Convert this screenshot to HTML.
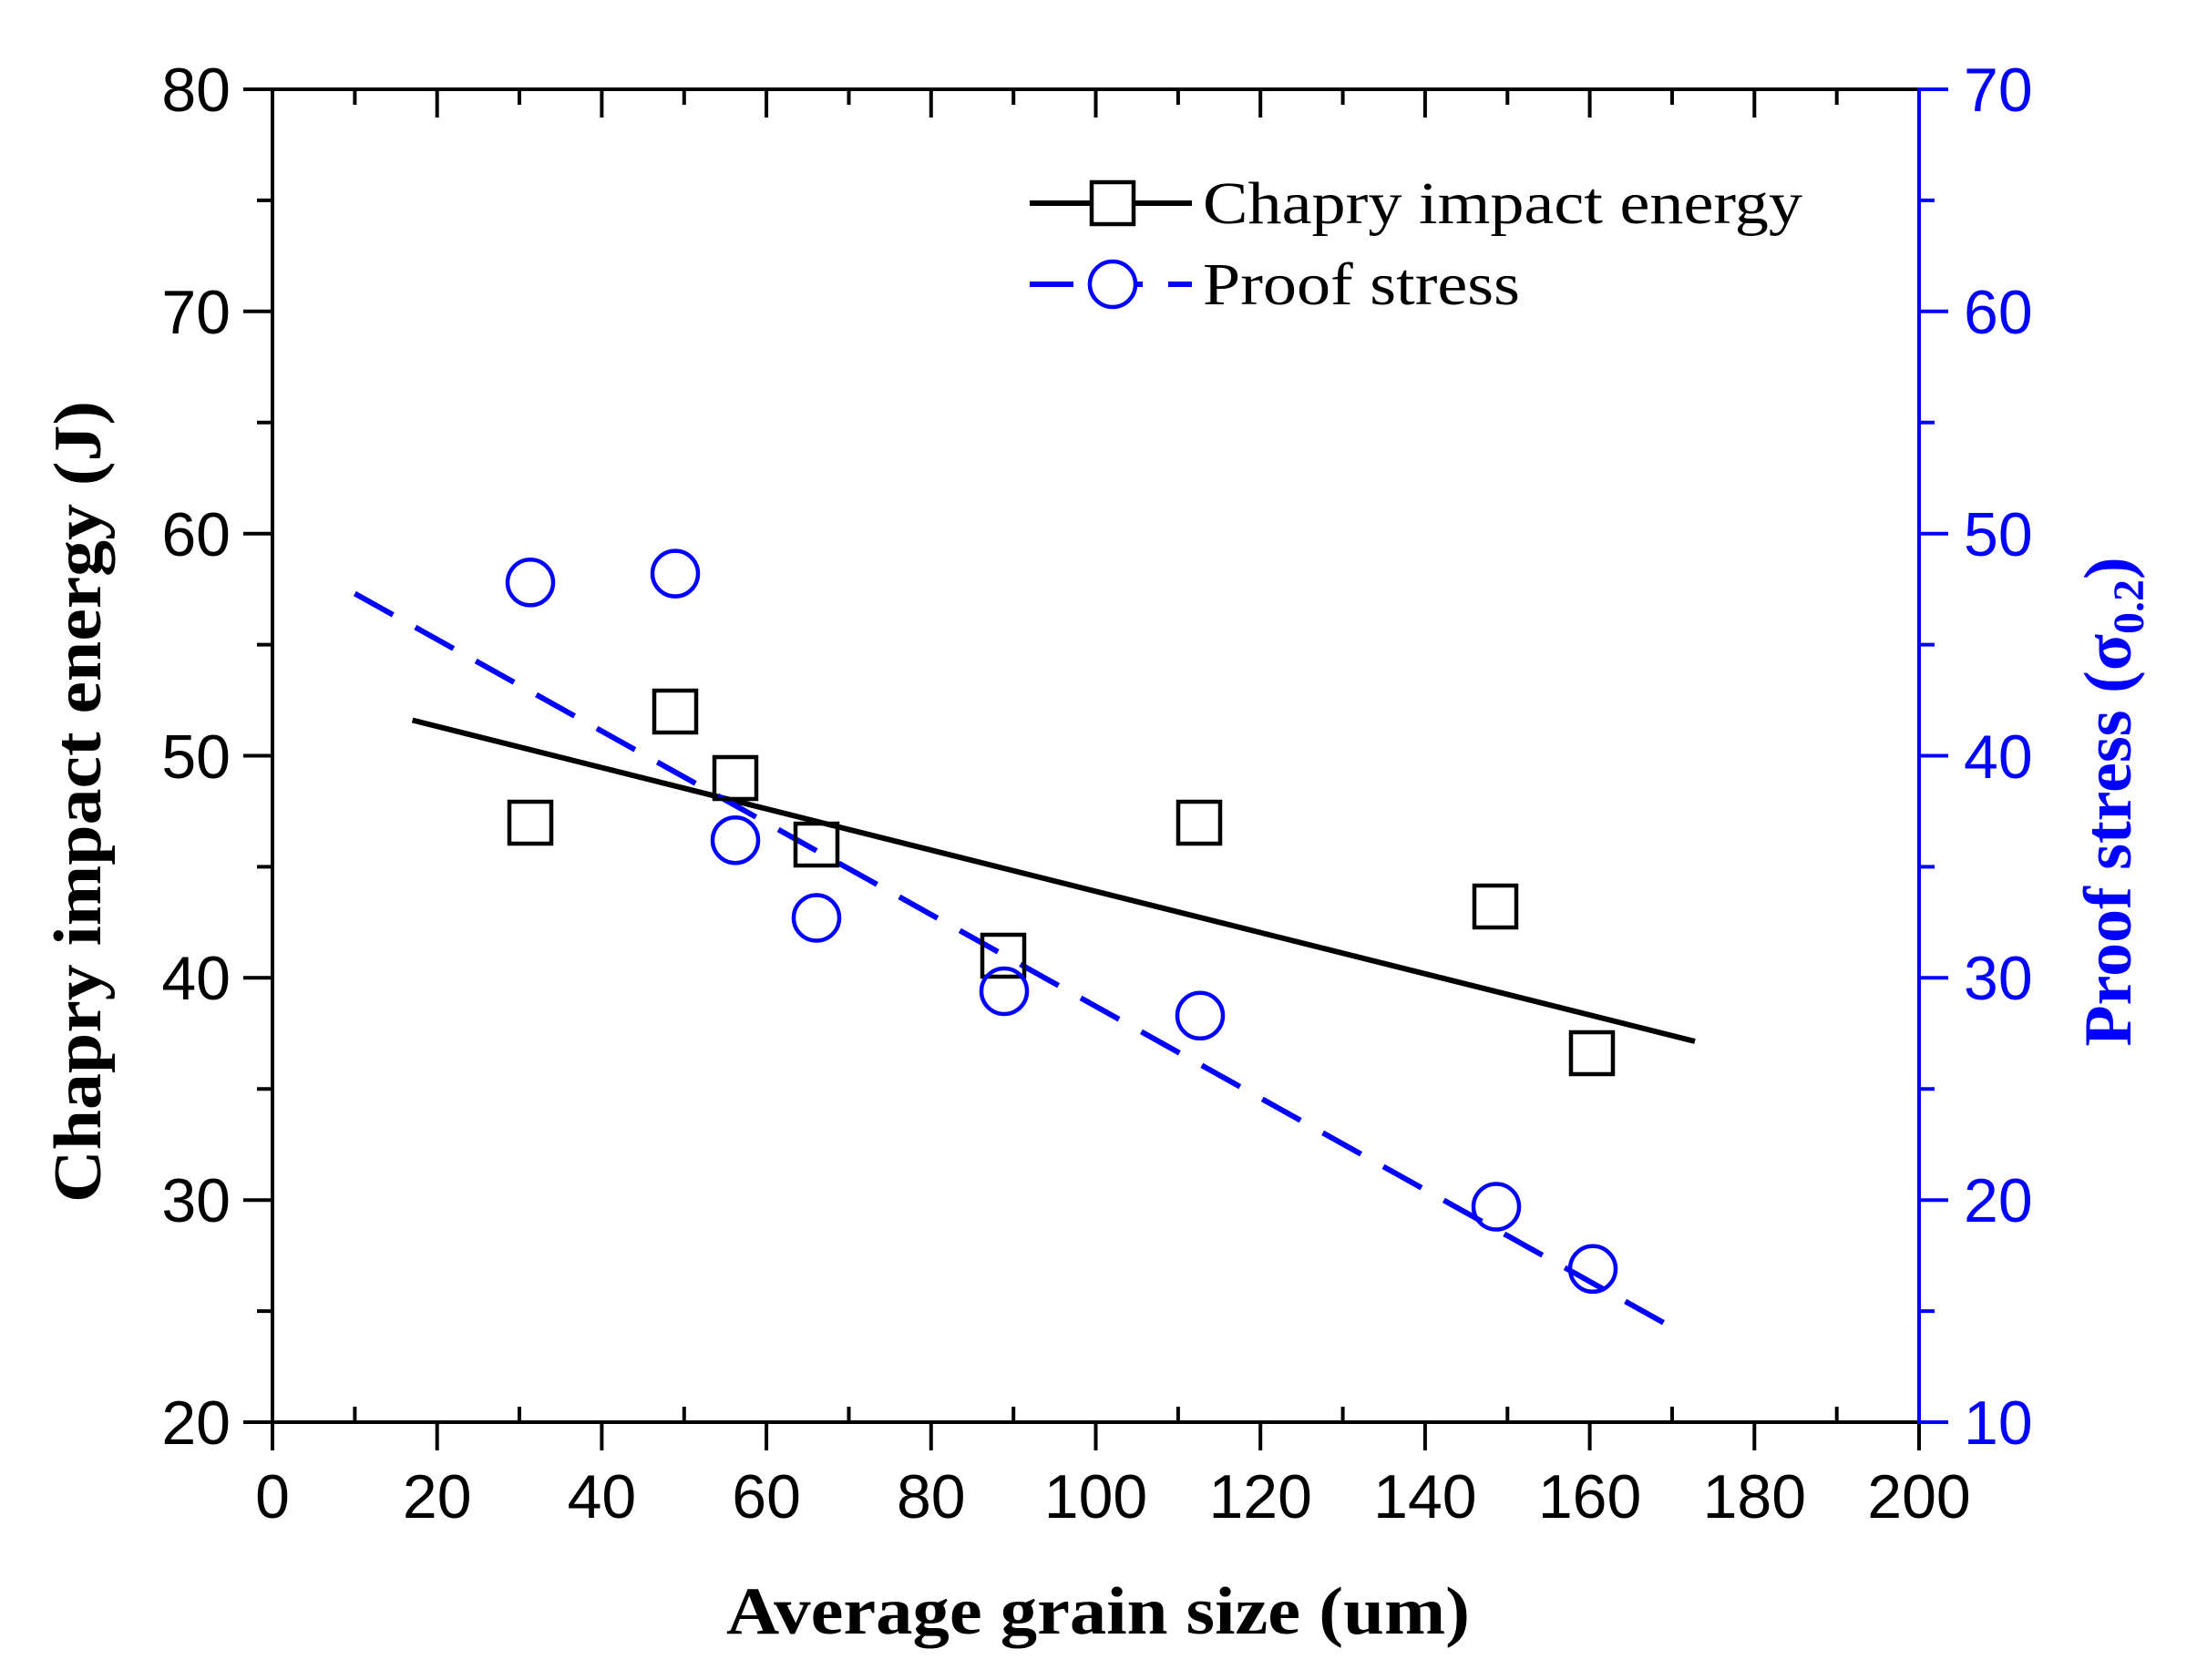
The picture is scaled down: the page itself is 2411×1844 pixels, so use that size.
<!DOCTYPE html>
<html><head><meta charset="utf-8"><style>html,body{margin:0;padding:0;background:#fff}svg{display:block}</style></head>
<body>
<svg width="2411" height="1844" viewBox="0 0 2411 1844" xmlns="http://www.w3.org/2000/svg">
<rect width="2411" height="1844" fill="#fff"/>
<g stroke="#000" stroke-width="4" fill="none" stroke-linecap="square">
<line x1="299" y1="98" x2="2106" y2="98"/>
<line x1="299" y1="98" x2="299" y2="1561"/>
<line x1="299" y1="1561" x2="2106" y2="1561"/>
<path d="M299 1561v29M479.7 1561v29M660.4 1561v29M841.1 1561v29M1021.8 1561v29M1202.5 1561v29M1383.2 1561v29M1563.9 1561v29M1744.6 1561v29M1925.3 1561v29M2106 1561v29"/>
<path d="M389.4 1561v-15M570 1561v-15M750.8 1561v-15M931.5 1561v-15M1112.2 1561v-15M1292.9 1561v-15M1473.6 1561v-15M1654.3 1561v-15M1835 1561v-15M2015.7 1561v-15"/>
<path d="M479.7 98v29M660.4 98v29M841.1 98v29M1021.8 98v29M1202.5 98v29M1383.2 98v29M1563.9 98v29M1744.6 98v29M1925.3 98v29"/>
<path d="M389.4 98v15M570 98v15M750.8 98v15M931.5 98v15M1112.2 98v15M1292.9 98v15M1473.6 98v15M1654.3 98v15M1835 98v15M2015.7 98v15"/>
<path d="M299 1561h-30M299 1317.2h-30M299 1073.3h-30M299 829.5h-30M299 585.7h-30M299 341.8h-30M299 98h-30"/>
<path d="M299 1439.1h-15M299 1195.2h-15M299 951.4h-15M299 707.6h-15M299 463.7h-15M299 219.9h-15"/>
</g>
<g stroke="#0000ff" stroke-width="4" fill="none" stroke-linecap="square">
<line x1="2106" y1="98" x2="2106" y2="1561"/>
<path d="M2106 1561h30M2106 1317.2h30M2106 1073.3h30M2106 829.5h30M2106 585.7h30M2106 341.8h30M2106 98h30"/>
<path d="M2106 1439.1h15M2106 1195.2h15M2106 951.4h15M2106 707.6h15M2106 463.7h15M2106 219.9h15"/>
</g>
<g font-family="Liberation Sans, Arial, sans-serif" font-size="68" fill="#000" text-anchor="middle">
<text x="299" y="1666">0</text><text x="479.7" y="1666">20</text><text x="660.4" y="1666">40</text><text x="841.1" y="1666">60</text><text x="1021.8" y="1666">80</text><text x="1202.5" y="1666">100</text><text x="1383.2" y="1666">120</text><text x="1563.9" y="1666">140</text><text x="1744.6" y="1666">160</text><text x="1925.3" y="1666">180</text><text x="2106" y="1666">200</text>
</g>
<g font-family="Liberation Sans, Arial, sans-serif" font-size="68" fill="#000" text-anchor="end">
<text x="253" y="1585">20</text><text x="253" y="1341">30</text><text x="253" y="1097">40</text><text x="253" y="854">50</text><text x="253" y="610">60</text><text x="253" y="366">70</text><text x="253" y="122">80</text>
</g>
<g font-family="Liberation Sans, Arial, sans-serif" font-size="68" fill="#0000ff" text-anchor="start">
<text x="2155" y="1585">10</text><text x="2155" y="1341">20</text><text x="2155" y="1097">30</text><text x="2155" y="854">40</text><text x="2155" y="610">50</text><text x="2155" y="366">60</text><text x="2155" y="122">70</text>
</g>
<text x="1205" y="1793" text-anchor="middle" font-family="Liberation Serif, serif" font-weight="bold" font-size="74" textLength="816" lengthAdjust="spacingAndGlyphs">Average grain size (um)</text>
<text transform="translate(110,880) rotate(-90)" text-anchor="middle" font-family="Liberation Serif, serif" font-weight="bold" font-size="74" textLength="880" lengthAdjust="spacingAndGlyphs">Chapry impact energy (J)</text>
<text transform="translate(2338,880) rotate(-90)" text-anchor="middle" font-family="Liberation Serif, serif" font-weight="bold" font-size="74" fill="#0000ff">Proof stress (σ<tspan font-size="48" dy="14">0.2</tspan><tspan dy="-14">)</tspan></text>
<line x1="452.6" y1="790.5" x2="1860" y2="1143" stroke="#000" stroke-width="6"/>
<line x1="389.4" y1="651.5" x2="1844" y2="1462" stroke="#0000ff" stroke-width="6" stroke-dasharray="48 28"/>
<g fill="none" stroke="#000" stroke-width="4.5">
<rect x="559" y="880" width="46" height="46"/>
<rect x="718" y="758" width="46" height="46"/>
<rect x="784" y="831" width="46" height="46"/>
<rect x="873" y="904" width="46" height="46"/>
<rect x="1078" y="1026" width="46" height="46"/>
<rect x="1293" y="880" width="46" height="46"/>
<rect x="1618" y="972" width="46" height="46"/>
<rect x="1724" y="1133" width="46" height="46"/>
</g>
<g fill="none" stroke="#0000ff" stroke-width="4.5">
<circle cx="582" cy="639.3" r="25"/>
<circle cx="741" cy="629.6" r="25"/>
<circle cx="807" cy="922.2" r="25"/>
<circle cx="896" cy="1007.5" r="25"/>
<circle cx="1102" cy="1088" r="25"/>
<circle cx="1317" cy="1114.8" r="25"/>
<circle cx="1642" cy="1324.5" r="25"/>
<circle cx="1748" cy="1392.8" r="25"/>
</g>
<line x1="1130" y1="223" x2="1308" y2="223" stroke="#000" stroke-width="6"/>
<rect x="1198" y="200" width="46" height="46" fill="#fff" stroke="#000" stroke-width="4.5"/>
<line x1="1130" y1="312" x2="1308" y2="312" stroke="#0000ff" stroke-width="6" stroke-dasharray="48 28"/>
<circle cx="1221" cy="312" r="25" fill="#fff" stroke="#0000ff" stroke-width="4.5"/>
<g font-family="Liberation Serif, serif" font-size="66" fill="#000">
<text x="1320" y="245" textLength="658" lengthAdjust="spacingAndGlyphs">Chapry impact energy</text>
<text x="1320" y="334" textLength="348" lengthAdjust="spacingAndGlyphs">Proof stress</text>
</g>
</svg>
</body></html>
